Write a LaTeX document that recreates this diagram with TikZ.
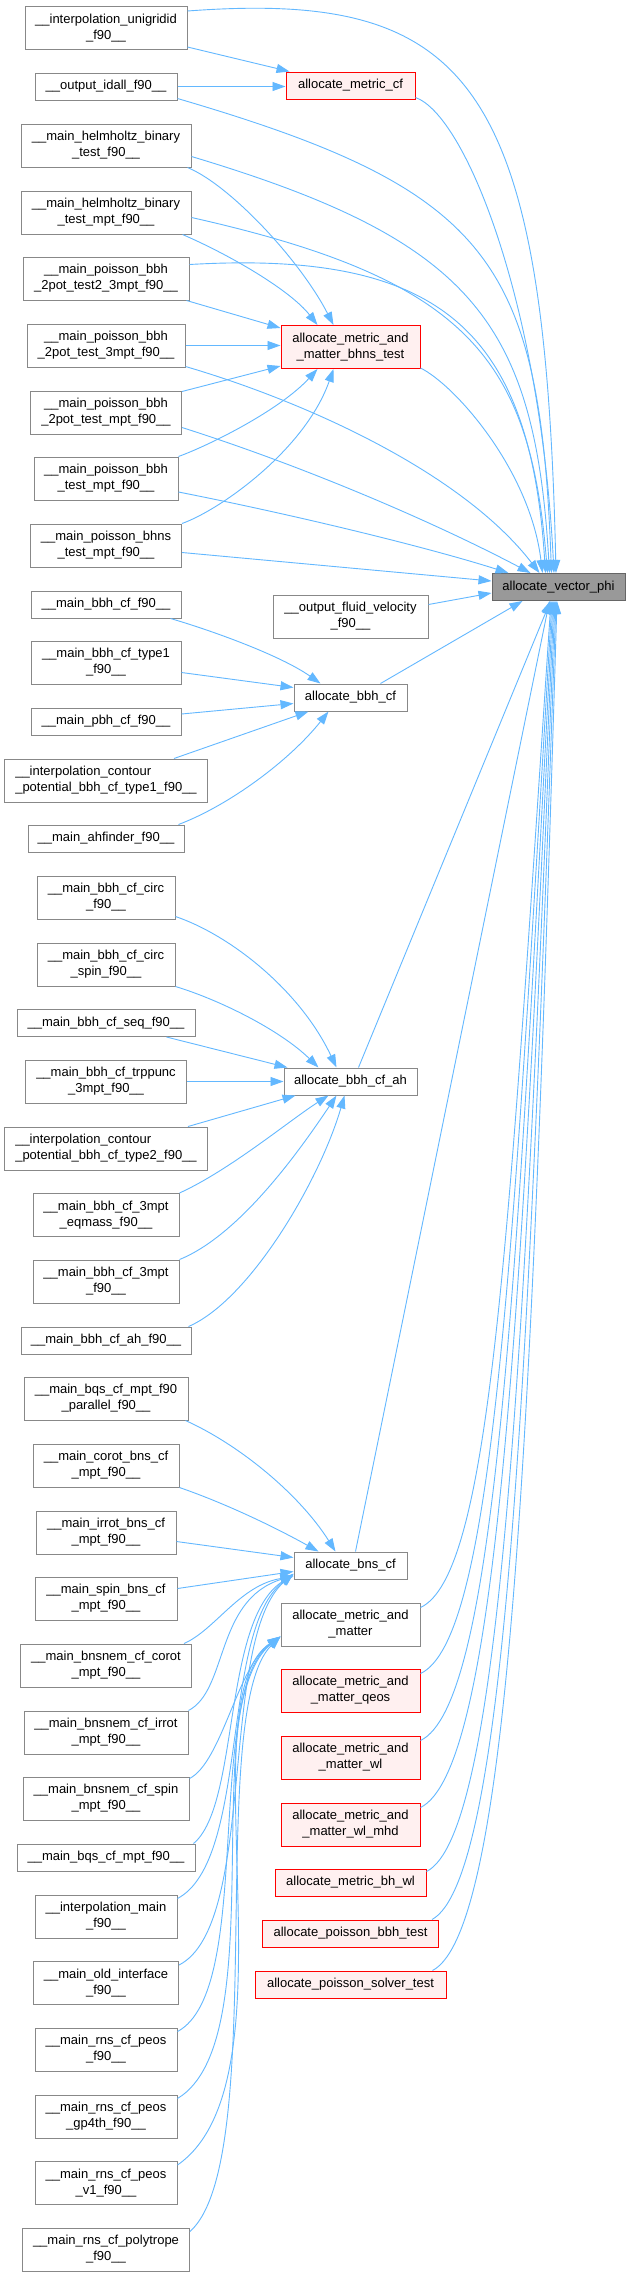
\documentclass[tikz,border=0pt]{standalone}
\usepackage{fontspec}
\setmainfont{Liberation Sans}
\usetikzlibrary{arrows.meta,calc}
\definecolor{boxgray}{HTML}{888888}
\definecolor{edgeblue}{HTML}{63B8FF}
\definecolor{redfill}{HTML}{FFF0F0}
\definecolor{mainfill}{HTML}{999999}
\definecolor{mainborder}{HTML}{666666}
\tikzset{
  box/.style={draw=boxgray, fill=white, line width=1pt, inner sep=0pt, align=center,
    font=\fontsize{13}{16}\selectfont, text=black},
  lbox/.style={box, align=left},
  redbox/.style={box, draw=red, fill=redfill},
  mainbox/.style={box, draw=mainborder, fill=mainfill},
  one/.style={minimum height=27pt},
  two/.style={minimum height=43pt},
  e/.style={draw=edgeblue, line width=0.9pt, -{Triangle[length=13pt,width=9pt]}},
}
\begin{document}
\begin{tikzpicture}[x=1pt,y=-1pt]
\fill[white,use as bounding box] (0,0) rectangle (631,2276);

% ---------------- left column ----------------
\node[box,two,minimum width=162pt] (uni)   at (106,28)    {\_\_interpolation\_unigridid\\\_f90\_\_};
\node[box,one,minimum width=142pt] (idall) at (106,86.5)  {\_\_output\_idall\_f90\_\_};
\node[box,two,minimum width=170pt] (helm)  at (106,145.5) {\_\_main\_helmholtz\_binary\\\_test\_f90\_\_};
\node[box,two,minimum width=170pt] (helmm) at (106,212.5) {\_\_main\_helmholtz\_binary\\\_test\_mpt\_f90\_\_};
\node[box,two,minimum width=166pt] (pa)    at (106,278.5) {\_\_main\_poisson\_bbh\\\_2pot\_test2\_3mpt\_f90\_\_};
\node[box,two,minimum width=158pt] (pb)    at (106,345.5) {\_\_main\_poisson\_bbh\\\_2pot\_test\_3mpt\_f90\_\_};
\node[box,two,minimum width=151pt] (pc)    at (106,412.5) {\_\_main\_poisson\_bbh\\\_2pot\_test\_mpt\_f90\_\_};
\node[box,two,minimum width=144pt] (pd)    at (106,478.5) {\_\_main\_poisson\_bbh\\\_test\_mpt\_f90\_\_};
\node[box,two,minimum width=151pt] (pe)    at (106,545.5) {\_\_main\_poisson\_bhns\\\_test\_mpt\_f90\_\_};
\node[box,one,minimum width=150pt] (ba)    at (106,604.5) {\_\_main\_bbh\_cf\_f90\_\_};
\node[box,two,minimum width=150pt] (bb)    at (106,662.5) {\_\_main\_bbh\_cf\_type1\\\_f90\_\_};
\node[box,one,minimum width=150pt] (bc)    at (106,721.5) {\_\_main\_pbh\_cf\_f90\_\_};
\node[lbox,two,minimum width=203pt] (bd)   at (106,780.5) {\_\_interpolation\_contour\\\_potential\_bbh\_cf\_type1\_f90\_\_};
\node[box,one,minimum width=156pt] (be)    at (106,838.5) {\_\_main\_ahfinder\_f90\_\_};
\node[box,two,minimum width=138pt] (ca)    at (106,897.5) {\_\_main\_bbh\_cf\_circ\\\_f90\_\_};
\node[box,two,minimum width=138pt] (cb)    at (106,964.5) {\_\_main\_bbh\_cf\_circ\\\_spin\_f90\_\_};
\node[box,one,minimum width=178pt] (cc)    at (106,1023)  {\_\_main\_bbh\_cf\_seq\_f90\_\_};
\node[box,two,minimum width=161pt] (cd)    at (106,1081.5){\_\_main\_bbh\_cf\_trppunc\\\_3mpt\_f90\_\_};
\node[lbox,two,minimum width=203pt] (ce)   at (106,1148.5){\_\_interpolation\_contour\\\_potential\_bbh\_cf\_type2\_f90\_\_};
\node[box,two,minimum width=146pt] (cf)    at (106,1215)  {\_\_main\_bbh\_cf\_3mpt\\\_eqmass\_f90\_\_};
\node[box,two,minimum width=146pt] (cg)    at (106,1281.5){\_\_main\_bbh\_cf\_3mpt\\\_f90\_\_};
\node[box,one,minimum width=170pt] (ch)    at (106,1340.5){\_\_main\_bbh\_cf\_ah\_f90\_\_};
\node[box,two,minimum width=164pt] (da)    at (106,1398.5){\_\_main\_bqs\_cf\_mpt\_f90\\\_parallel\_f90\_\_};
\node[box,two,minimum width=146pt] (db)    at (106,1465.5){\_\_main\_corot\_bns\_cf\\\_mpt\_f90\_\_};
\node[box,two,minimum width=140pt] (dc)    at (106,1532.5){\_\_main\_irrot\_bns\_cf\\\_mpt\_f90\_\_};
\node[box,two,minimum width=142pt] (dd)    at (106,1598.5){\_\_main\_spin\_bns\_cf\\\_mpt\_f90\_\_};
\node[box,two,minimum width=171pt] (de)    at (106,1665.5){\_\_main\_bnsnem\_cf\_corot\\\_mpt\_f90\_\_};
\node[box,two,minimum width=164pt] (df)    at (106,1732.5){\_\_main\_bnsnem\_cf\_irrot\\\_mpt\_f90\_\_};
\node[box,two,minimum width=166pt] (dg)    at (106,1798.5){\_\_main\_bnsnem\_cf\_spin\\\_mpt\_f90\_\_};
\node[box,one,minimum width=178pt] (dh)    at (106,1857.5){\_\_main\_bqs\_cf\_mpt\_f90\_\_};
\node[box,two,minimum width=142pt] (di)    at (106,1916.5){\_\_interpolation\_main\\\_f90\_\_};
\node[box,two,minimum width=145pt] (dj)    at (106,1983)  {\_\_main\_old\_interface\\\_f90\_\_};
\node[box,two,minimum width=142pt] (dk)    at (106,2049.5){\_\_main\_rns\_cf\_peos\\\_f90\_\_};
\node[box,two,minimum width=142pt] (dl)    at (106,2116.5){\_\_main\_rns\_cf\_peos\\\_gp4th\_f90\_\_};
\node[box,two,minimum width=142pt] (dm)    at (106,2183)  {\_\_main\_rns\_cf\_peos\\\_v1\_f90\_\_};
\node[box,two,minimum width=167pt] (dn)    at (106,2249.5){\_\_main\_rns\_cf\_polytrope\\\_f90\_\_};

% ---------------- middle column ----------------
\node[redbox,one,minimum width=129pt] (mcf)   at (350.5,85.5)  {allocate\_metric\_cf};
\node[redbox,two,minimum width=139pt] (bhnst) at (350.5,347)   {allocate\_metric\_and\\\_matter\_bhns\_test};
\node[box,two,minimum width=155pt]    (fluid) at (350.5,616.5) {\_\_output\_fluid\_velocity\\\_f90\_\_};
\node[box,one,minimum width=113pt]    (bbhcf) at (350.5,697.5) {allocate\_bbh\_cf};
\node[box,one,minimum width=133pt]    (bbhah) at (350.5,1081.5){allocate\_bbh\_cf\_ah};
\node[box,one,minimum width=113pt]    (bnscf) at (350.5,1565.5){allocate\_bns\_cf};
\node[box,two,minimum width=139pt]    (mm)    at (350.5,1624.5){allocate\_metric\_and\\\_matter};
\node[redbox,two,minimum width=139pt] (mmq)   at (350.5,1690.5){allocate\_metric\_and\\\_matter\_qeos};
\node[redbox,two,minimum width=139pt] (mmwl)  at (350.5,1757.5){allocate\_metric\_and\\\_matter\_wl};
\node[redbox,two,minimum width=139pt] (mmwlm) at (350.5,1824.5){allocate\_metric\_and\\\_matter\_wl\_mhd};
\node[redbox,one,minimum width=151pt] (bhwl)  at (350.5,1882.5){allocate\_metric\_bh\_wl};
\node[redbox,one,minimum width=176pt] (pbbh)  at (350.5,1933.5){allocate\_poisson\_bbh\_test};
\node[redbox,one,minimum width=191pt] (pst)   at (350.5,1984.5){allocate\_poisson\_solver\_test};

% ---------------- right ----------------
\node[mainbox,one,minimum width=133pt] (vphi) at (558.5,587) {allocate\_vector\_phi};

% ---------------- edges: allocate_metric_cf ----------------
\draw[e] ($(uni.south east)+(0,-3)$) -- ($(mcf.north west)+(4,0)$);
\draw[e] (idall.east) -- (mcf.west |- idall.east);

% ---------------- edges into vector_phi (top) ----------------
\draw[e] ($(uni.north east)+(0,5)$) .. controls (470,-10) and (545,80) .. ($(vphi.north)+(-2.5,0)$);
\draw[e] ($(mcf.south east)+(0,-2)$) .. controls (465,115) and (540,300) .. ($(vphi.north)+(-4.5,0)$);
\draw[e] ($(idall.south east)+(0,-2)$) .. controls (490,190) and (540,260) .. ($(vphi.north)+(-7,0)$);
\draw[e] ($(helm.east)+(0,11)$) .. controls (470,240) and (535,320) .. ($(vphi.north)+(-9,0)$);
\draw[e] ($(helmm.east)+(0,5)$) .. controls (470,280) and (530,360) .. ($(vphi.north)+(-11,0)$);
\draw[e] ($(pa.north east)+(0,8)$) .. controls (440,250) and (530,330) .. ($(vphi.north)+(-13,0)$);
\draw[e] ($(bhnst.south east)+(0,-1)$) .. controls (455,385) and (530,470) .. ($(vphi.north)+(-16,0)$);
\draw[e] ($(pb.south east)+(0,-1)$) .. controls (300,400) and (460,470) .. ($(vphi.north)+(-19,0)$);
\draw[e] ($(pc.south east)+(0,-7)$) .. controls (300,465) and (430,520) .. ($(vphi.north)+(-28,0)$);
\draw[e] ($(pd.east)+(0,13.5)$) .. controls (300,516) and (430,548) .. ($(vphi.north)+(-50,0)$);
\draw[e] ($(pe.east)+(0,7)$) -- ($(vphi.west)+(0,-6)$);
\draw[e] ($(fluid.east)+(0,-12)$) -- ($(vphi.west)+(0,6)$);

% ---------------- edges into bhns_test ----------------
\draw[e] ($(helm.south east)+(-4,0)$) .. controls (230,185) and (300,260) .. ($(bhnst.north)+(-17,0)$);
\draw[e] ($(helmm.south east)+(-9,0)$) .. controls (230,255) and (290,290) .. ($(bhnst.north)+(-33,0)$);
\draw[e] ($(pa.south east)+(-3,0)$) -- ($(bhnst.north west)+(0,3)$);
\draw[e] (pb.east) -- (bhnst.west |- pb.east);
\draw[e] ($(pc.north east)+(0,1)$) -- ($(bhnst.south west)+(0,-3)$);
\draw[e] (pd.north east) .. controls (210,445) and (280,410) .. ($(bhnst.south)+(-33,0)$);
\draw[e] (pe.north east) .. controls (220,510) and (305,450) .. ($(bhnst.south)+(-17,0)$);

% ---------------- edges into allocate_bbh_cf ----------------
\draw[e] ($(ba.south east)+(-11,0)$) .. controls (210,630) and (280,655) .. ($(bbhcf.north)+(-30,0)$);
\draw[e] ($(bb.east)+(0,10)$) -- ($(bbhcf.west)+(0,-10)$);
\draw[e] ($(bc.east)+(0,-7.5)$) -- ($(bbhcf.west)+(0,6)$);
\draw[e] ($(bd.north east)+(-34,0)$) -- ($(bbhcf.south)+(-42,0)$);
\draw[e] ($(be.north east)+(-6,0)$) .. controls (230,805) and (290,760) .. ($(bbhcf.south)+(-22,0)$);
\draw[e] ($(bbhcf.north)+(30,0)$) -- ($(vphi.south)+(-36,0)$);

% ---------------- edges into allocate_bbh_cf_ah ----------------
\draw[e] ($(ca.south east)+(0,-3)$) .. controls (230,935) and (300,990) .. ($(bbhah.north)+(-14,0)$);
\draw[e] (cb.south east) .. controls (220,1000) and (280,1030) .. ($(bbhah.north)+(-32,0)$);
\draw[e] ($(cc.south east)+(-29,0)$) -- ($(bbhah.north west)+(4,0)$);
\draw[e] (cd.east) -- (bbhah.west);
\draw[e] ($(ce.north east)+(-20,0)$) -- ($(bbhah.south west)+(12,0)$);
\draw[e] (cf.north east) .. controls (230,1170) and (290,1120) .. ($(bbhah.south)+(-22,0)$);
\draw[e] (cg.north east) .. controls (240,1235) and (300,1150) .. ($(bbhah.south)+(-14,0)$);
\draw[e] ($(ch.north east)+(-3,0)$) .. controls (250,1300) and (320,1180) .. ($(bbhah.south)+(-6,0)$);
\draw[e] ($(bbhah.north)+(8,0)$) -- ($(vphi.south)+(-8,0)$);

% ---------------- edges into allocate_bns_cf ----------------
\draw[e] ($(da.south east)+(-3,0)$) .. controls (240,1445) and (300,1495) .. ($(bnscf.north)+(-15,0)$);
\draw[e] (db.south east) .. controls (230,1505) and (280,1530) .. ($(bnscf.north)+(-32,0)$);
\draw[e] ($(dc.east)+(0,9)$) -- ($(bnscf.west)+(0,-8)$);
\draw[e] ($(dd.east)+(0,-10)$) -- ($(bnscf.west)+(0,6)$);
\draw[e] ($(de.north east)+(-8,0)$) .. controls (215,1630) and (240,1585) .. ($(bnscf.west)+(0,11)$);
\draw[e] (df.north east) .. controls (228,1690) and (215,1600) .. ($(bnscf.west)+(0,10)$);
\draw[e] ($(dh.north east)+(-2,0)$) .. controls (240,1805) and (222,1620) .. ($(bnscf.west)+(0,9)$);
\draw[e] ($(di.north east)+(0,4)$) .. controls (250,1860) and (220,1630) .. ($(bnscf.west)+(0,8.5)$);
\draw[e] ($(dj.north east)+(0,4)$) .. controls (258,1925) and (218,1640) .. ($(bnscf.west)+(0,8)$);
\draw[e] ($(bnscf.north)+(5,0)$) -- ($(vphi.south)+(-9,0)$);

% ---------------- edges into allocate_metric_and_matter ----------------
\draw[e] ($(dg.north east)+(0,2)$) .. controls (222,1762) and (238,1665) .. ($(mm.west)+(0,12)$);
\draw[e] ($(dk.north east)+(0,4)$) .. controls (255,1990) and (203,1699) .. ($(mm.west)+(0,12)$);
\draw[e] ($(dl.north east)+(0,4)$) .. controls (275,2040) and (195,1700) .. ($(mm.west)+(0,12)$);
\draw[e] ($(dm.north east)+(0,4)$) .. controls (300,2080) and (185,1700) .. ($(mm.west)+(0,12)$);
\draw[e] ($(dn.north east)+(0,4)$) .. controls (270,2160) and (205,1710) .. ($(mm.west)+(0,12)$);

% ---------------- edges from lower middle nodes into vector_phi ----------------
\draw[e] ($(mm.north east)+(0,5)$) .. controls (490,1575) and (508,1250) .. ($(vphi.south)+(-7.5,0)$);
\draw[e] ($(mmq.north east)+(0,5)$) .. controls (492,1640) and (512,1280) .. ($(vphi.south)+(-6.5,0)$);
\draw[e] ($(mmwl.north east)+(0,5)$) .. controls (494,1705) and (516,1310) .. ($(vphi.south)+(-5.5,0)$);
\draw[e] ($(mmwlm.north east)+(0,5)$) .. controls (496,1770) and (520,1340) .. ($(vphi.south)+(-4.5,0)$);
\draw[e] ($(bhwl.north east)+(0,3)$) .. controls (500,1835) and (524,1370) .. ($(vphi.south)+(-3.5,0)$);
\draw[e] ($(pbbh.north east)+(-7,0)$) .. controls (505,1880) and (528,1400) .. ($(vphi.south)+(-2.5,0)$);
\draw[e] ($(pst.north east)+(-14,0)$) .. controls (510,1930) and (532,1430) .. ($(vphi.south)+(-1.5,0)$);
\end{tikzpicture}
\end{document}
